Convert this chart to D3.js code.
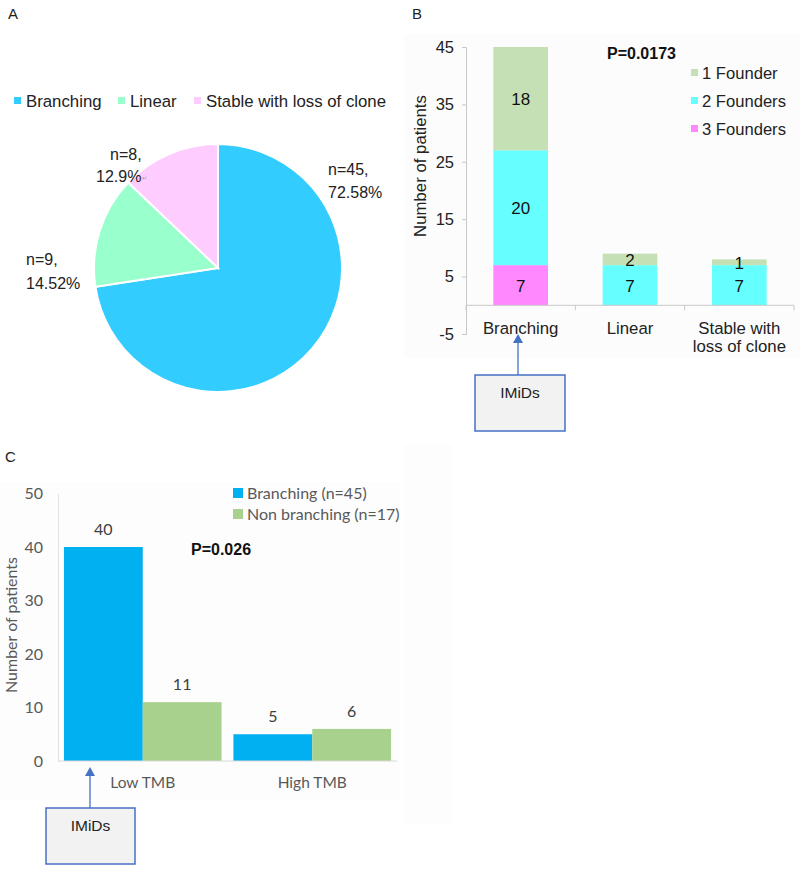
<!DOCTYPE html>
<html><head><meta charset="utf-8">
<script src="https://cdn.jsdelivr.net/npm/d3@7"></script>
<style>body{margin:0;background:#fff}svg{display:block}</style>
</head><body>
<script>
// ---------- Data ----------
const pieCategories = ["Branching", "Linear", "Stable with loss of clone"];
const pieValues = [45, 9, 8];
const pieLabels = [["n=45,", "72.58%"], ["n=9,", "14.52%"], ["n=8,", "12.9%"]];

const bCategories = ["Branching", "Linear", "Stable with loss of clone"];
const bFounder1 = [18, 2, 1];
const bFounder2 = [20, 7, 7];
const bFounder3 = [7, 0, 0];
const bSeries = ["1 Founder", "2 Founders", "3 Founders"];
const bTicks = [-5, 5, 15, 25, 35, 45];

const cCategories = ["Low TMB", "High TMB"];
const cBranching = [40, 5];
const cNonBranching = [11, 6];
const cSeries = ["Branching (n=45)", "Non branching (n=17)"];
const cTicks = [0, 10, 20, 30, 40, 50];

const W = 800, H = 870;
const svg = d3.select("body").append("svg").attr("width", W).attr("height", H);
const ARIAL = "Liberation Sans, Arial, sans-serif";
const CAL = "Lato, 'Open Sans', sans-serif";

// faint panel backgrounds
svg.append("rect").attr("x", 404).attr("y", 34).attr("width", 396).attr("height", 324).attr("fill", "#fcfcfc");
svg.append("rect").attr("x", 0).attr("y", 482).attr("width", 400).attr("height", 318).attr("fill", "#fdfdfd");
svg.append("rect").attr("x", 404).attr("y", 445).attr("width", 48).attr("height", 380).attr("fill", "#fdfdfd");

// panel letters
[["A", 8, 19], ["B", 412, 19], ["C", 5, 462]].forEach(([t, x, y]) =>
  svg.append("text").attr("x", x).attr("y", y).attr("font-family", ARIAL).attr("font-size", 15).attr("fill", "#222").text(t));

// ---------- Panel A : pie ----------
const pieColors = ["#33ccff", "#99ffcc", "#ffccff"];
const pieG = svg.append("g").attr("transform", "translate(218,268)");
const pie = d3.pie().sort(null).value(d => d)(pieValues);
const arc = d3.arc().innerRadius(0).outerRadius(124);
pieG.selectAll("path").data(pie).join("path")
  .attr("d", arc).attr("fill", (d, i) => pieColors[i])
  .attr("stroke", "#fff").attr("stroke-width", 2);

// legend A
const legA = [[14, 26], [118, 130], [194, 206]];
pieCategories.forEach((c, i) => {
  svg.append("rect").attr("x", legA[i][0]).attr("y", 97).attr("width", 7).attr("height", 7).attr("fill", pieColors[i]);
  svg.append("text").attr("x", legA[i][1]).attr("y", 107).attr("font-family", ARIAL).attr("font-size", 16.8).attr("fill", "#222").text(c);
});
// slice labels
const labPos = [[328, 175], [26, 265], [110, 160]];
const labPos2 = [[328, 198], [26, 289], [96, 182]];
pieLabels.forEach((l, i) => {
  svg.append("text").attr("x", labPos[i][0]).attr("y", labPos[i][1]).attr("font-family", ARIAL).attr("font-size", 16).attr("fill", "#222").text(l[0]);
  svg.append("text").attr("x", labPos2[i][0]).attr("y", labPos2[i][1]).attr("font-family", ARIAL).attr("font-size", 16).attr("fill", "#222").text(l[1]);
});
svg.append("text").attr("x", 142).attr("y", 180).attr("font-family", ARIAL).attr("font-size", 6).attr("fill", "#999").text("↵");

// ---------- Panel B : stacked bars ----------
const yB = d3.scaleLinear().domain([-5, 45]).range([334, 47]);
const xB = d3.scaleBand().domain(bCategories).range([466, 794]).paddingInner(0.5).paddingOuter(0.25);
const xBaxis = d3.scaleBand().domain(bCategories).range([466, 794]);
const bColors = { "1 Founder": "#c5e0b4", "2 Founders": "#66ffff", "3 Founders": "#ff88ff" };
const bRows = bCategories.map((c, i) => ({ cat: c, "1 Founder": bFounder1[i], "2 Founders": bFounder2[i], "3 Founders": bFounder3[i] }));
const stackB = d3.stack().keys(["3 Founders", "2 Founders", "1 Founder"])(bRows);

// y axis
const yAxisB = svg.append("g").attr("transform", "translate(466,0)")
  .call(d3.axisLeft(yB).tickValues(bTicks).tickSize(4).tickPadding(8).tickFormat(d => String(d)));
yAxisB.select(".domain").attr("stroke", "#c8c8c8");
yAxisB.selectAll(".tick line").attr("stroke", "#c8c8c8");
yAxisB.selectAll(".tick text").attr("font-family", ARIAL).attr("font-size", 16.5).attr("fill", "#222");

const layers = svg.append("g").selectAll("g").data(stackB).join("g").attr("fill", d => bColors[d.key]);
layers.selectAll("rect").data(d => d).join("rect")
  .attr("x", d => xB(d.data.cat)).attr("width", xB.bandwidth())
  .attr("y", d => yB(d[1])).attr("height", d => yB(d[0]) - yB(d[1]));
stackB.forEach(s => s.forEach(d => {
  const v = d[1] - d[0];
  if (v > 0) svg.append("text").attr("x", xB(d.data.cat) + xB.bandwidth() / 2).attr("y", yB((d[0] + d[1]) / 2) + 6.5)
    .attr("text-anchor", "middle").attr("font-family", ARIAL).attr("font-size", 17).attr("fill", "#111").text(v);
}));

// x axis line at 0
svg.append("line").attr("x1", 466).attr("x2", 794).attr("y1", yB(0)).attr("y2", yB(0)).attr("stroke", "#c8c8c8");
[...bCategories.map(c => xBaxis(c)), 794].forEach(x =>
  svg.append("line").attr("x1", x).attr("x2", x).attr("y1", yB(0)).attr("y2", yB(0) + 5).attr("stroke", "#c8c8c8"));
// category labels
const bLabLines = [["Branching"], ["Linear"], ["Stable with", "loss of clone"]];
bCategories.forEach((c, i) => {
  bLabLines[i].forEach((t, j) => svg.append("text").attr("x", xBaxis(c) + xBaxis.bandwidth() / 2).attr("y", 333.5 + j * 18.5)
    .attr("text-anchor", "middle").attr("font-family", ARIAL).attr("font-size", 16.8).attr("fill", "#222").text(t));
});
svg.append("text").attr("transform", "translate(426,166) rotate(-90)").attr("text-anchor", "middle")
  .attr("font-family", ARIAL).attr("font-size", 16.8).attr("fill", "#222").text("Number of patients");
svg.append("text").attr("x", 607).attr("y", 59).attr("font-family", ARIAL).attr("font-size", 16).attr("font-weight", "bold").attr("fill", "#111").text("P=0.0173");
bSeries.forEach((s, i) => {
  const y = 73 + i * 28;
  svg.append("rect").attr("x", 691).attr("y", y - 4).attr("width", 7).attr("height", 7).attr("fill", bColors[s]);
  svg.append("text").attr("x", 702).attr("y", y + 6).attr("font-family", ARIAL).attr("font-size", 16.6).attr("fill", "#222").text(s);
});

// ---------- Panel C : grouped bars ----------
const yC = d3.scaleLinear().domain([0, 50]).range([761, 493.5]);
const xC = d3.scaleBand().domain(cCategories).range([58, 397]).paddingInner(0.07).paddingOuter(0.035);
const xCaxis = d3.scaleBand().domain(cCategories).range([58, 397]);
const xC1 = d3.scaleBand().domain(cSeries).range([0, xC.bandwidth()]);
const cColors = ["#00b0f0", "#a9d18e"];
const cRows = cCategories.map((c, i) => ({ cat: c, vals: [cBranching[i], cNonBranching[i]] }));

const yAxisC = svg.append("g").attr("transform", "translate(58,0)")
  .call(d3.axisLeft(yC).tickValues(cTicks).tickSize(0).tickPadding(15));
yAxisC.select(".domain").attr("stroke", "#e3e3e3");
yAxisC.selectAll(".tick text").attr("font-family", CAL).attr("font-size", 16).attr("fill", "#595959");

const gC = svg.append("g").selectAll("g").data(cRows).join("g").attr("transform", d => `translate(${xC(d.cat)},0)`);
gC.selectAll("rect").data(d => d.vals.map((v, j) => ({ v, j }))).join("rect")
  .attr("x", d => xC1(cSeries[d.j])).attr("width", xC1.bandwidth())
  .attr("y", d => yC(d.v)).attr("height", d => yC(0) - yC(d.v)).attr("fill", d => cColors[d.j]);
gC.selectAll("text").data(d => d.vals.map((v, j) => ({ v, j }))).join("text")
  .attr("x", d => xC1(cSeries[d.j]) + xC1.bandwidth() / 2).attr("y", d => yC(d.v) - 12)
  .attr("text-anchor", "middle").attr("font-family", CAL).attr("font-size", 16).attr("fill", "#404040").text(d => d.v);

svg.append("line").attr("x1", 58).attr("x2", 397).attr("y1", yC(0)).attr("y2", yC(0)).attr("stroke", "#d9d9d9");
cCategories.forEach(c => svg.append("text").attr("x", xCaxis(c) + xCaxis.bandwidth() / 2).attr("y", 788)
  .attr("text-anchor", "middle").attr("font-family", CAL).attr("font-size", 15.5).attr("fill", "#595959").text(c));
svg.append("text").attr("transform", "translate(17,625) rotate(-90)").attr("text-anchor", "middle")
  .attr("font-family", CAL).attr("font-size", 16).attr("fill", "#595959").text("Number of patients");
svg.append("text").attr("x", 191).attr("y", 555).attr("font-family", ARIAL).attr("font-size", 16).attr("font-weight", "bold").attr("fill", "#111").text("P=0.026");
cSeries.forEach((s, i) => {
  const y = 493 + i * 21;
  svg.append("rect").attr("x", 233).attr("y", y - 5).attr("width", 10).attr("height", 10).attr("fill", cColors[i]);
  svg.append("text").attr("x", 247).attr("y", y + 5.5).attr("font-family", CAL).attr("font-size", 16).attr("fill", "#595959").text(s);
});

// ---------- IMiDs callouts ----------
function callout(ax, tipY, boxX, boxY, boxW, boxH, textY) {
  svg.append("line").attr("x1", ax).attr("x2", ax).attr("y1", boxY).attr("y2", tipY + 8).attr("stroke", "#4472c4").attr("stroke-width", 1.3);
  svg.append("path").attr("d", `M${ax},${tipY} L${ax - 5},${tipY + 9} L${ax + 5},${tipY + 9} Z`).attr("fill", "#4472c4");
  svg.append("rect").attr("x", boxX).attr("y", boxY).attr("width", boxW).attr("height", boxH)
    .attr("fill", "#f2f2f2").attr("stroke", "#4472c4").attr("stroke-width", 1.5);
  svg.append("text").attr("x", boxX + boxW / 2).attr("y", textY).attr("text-anchor", "middle")
    .attr("font-family", ARIAL).attr("font-size", 15.5).attr("fill", "#222").text("IMiDs");
}
callout(518, 334, 475, 375, 90, 56, 398);
callout(90, 767, 46, 808, 89, 56, 831);
</script>
</body></html>
